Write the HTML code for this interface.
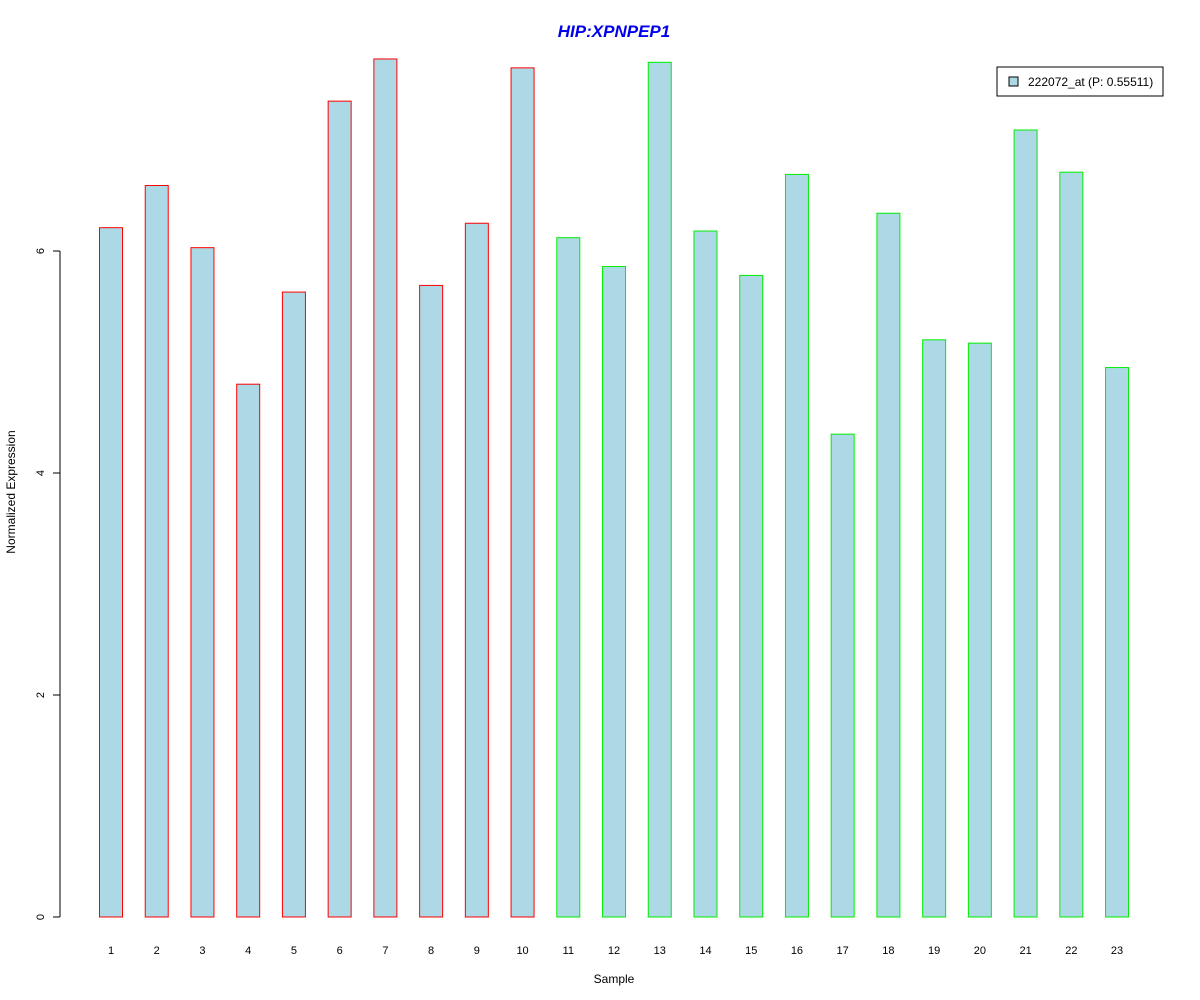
<!DOCTYPE html>
<html><head><meta charset="utf-8"><style>body{margin:0;background:#fff}svg{display:block;font-family:"Liberation Sans",Arial,sans-serif}</style></head>
<body>
<svg id="chart" width="1200" height="1000">
<text x="614" y="37" text-anchor="middle" font-size="17" font-weight="bold" font-style="italic" fill="#0000ee">HIP:XPNPEP1</text>
<text x="614" y="983" text-anchor="middle" font-size="12">Sample</text>
<text transform="translate(15,492) rotate(-90)" text-anchor="middle" font-size="12">Normalized Expression</text>
<g id="yaxis"></g>
<g id="bars"></g>
<g id="xlabels"></g>
<g>
<rect x="997" y="67" width="166" height="29" fill="#fff" stroke="#000"/>
<rect x="1009" y="77" width="9" height="9" fill="#add8e6" stroke="#000"/>
<text x="1028" y="86" font-size="12">222072_at (P: 0.55511)</text>
</g>
</svg>
<script>
const categories=["1","2","3","4","5","6","7","8","9","10","11","12","13","14","15","16","17","18","19","20","21","22","23"];
const values=[6.21,6.59,6.03,4.80,5.63,7.35,7.73,5.69,6.25,7.65,6.12,5.86,7.70,6.18,5.78,6.69,4.35,6.34,5.20,5.17,7.09,6.71,4.95];
const groups=["a","a","a","a","a","a","a","a","a","a","b","b","b","b","b","b","b","b","b","b","b","b","b"];
const yTicks=[0,2,4,6];
const NS="http://www.w3.org/2000/svg";
const y=v=>917-v*111;
const x=i=>111+i*45.73;
function mk(t,a,p){const e=document.createElementNS(NS,t);for(const k in a)e.setAttribute(k,a[k]);p.appendChild(e);return e;}
const ya=document.getElementById('yaxis');
mk('line',{x1:60,x2:60,y1:y(yTicks[0]),y2:y(yTicks[yTicks.length-1]),stroke:'#000'},ya);
yTicks.forEach(t=>{
 const l=mk('line',{x1:53,x2:60,y1:y(t),y2:y(t),stroke:'#000'},ya);
 
 
 const tx=mk('text',{transform:`translate(44,${y(t)}) rotate(-90)`,'text-anchor':'middle','font-size':11},ya);
 tx.textContent=t;
 
 
});
const bg=document.getElementById('bars'),xl=document.getElementById('xlabels');
values.forEach((v,i)=>{
 const r=mk('rect',{x:x(i)-11.5,y:y(v),width:23,height:y(0)-y(v),fill:'#add8e6',stroke:groups[i]==='a'?'#ff0000':'#00ee00'},bg);
 
 
 const t=mk('text',{x:x(i),y:954,'text-anchor':'middle','font-size':11},xl);
 t.textContent=categories[i];
 
 
});
</script>
</body></html>
